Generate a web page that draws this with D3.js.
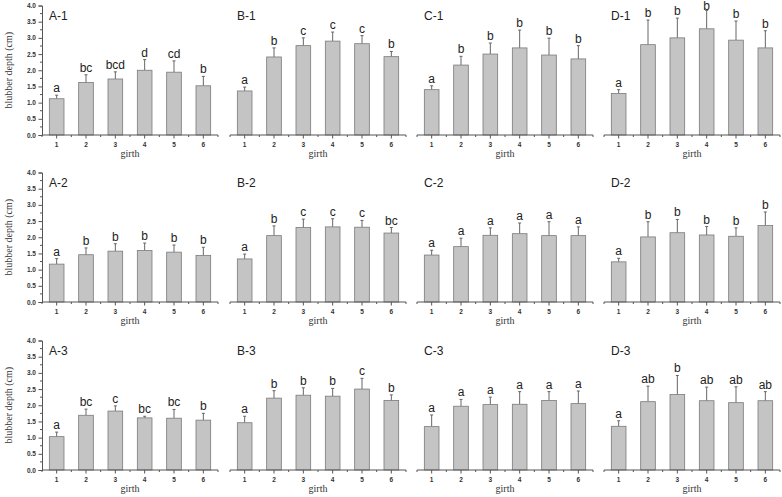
<!DOCTYPE html>
<html>
<head>
<meta charset="utf-8">
<script src="https://cdn.jsdelivr.net/npm/d3@7"></script>
<style>
body{margin:0;background:#fff;}
</style>
</head>
<body>
<script>
// data
var girth=[1,2,3,4,5,6];
var panelNames=[["A-1","B-1","C-1","D-1"],["A-2","B-2","C-2","D-2"],["A-3","B-3","C-3","D-3"]];
var yTicks=[0,0.5,1,1.5,2,2.5,3,3.5,4];

//means, one list per panel (row by row)
var means=[
 [[1.12,1.62,1.73,2.00,1.94,1.52],[1.36,2.41,2.76,2.90,2.82,2.42],[1.40,2.16,2.50,2.69,2.47,2.35],[1.28,2.79,3.00,3.28,2.93,2.69]],
 [[1.17,1.46,1.57,1.59,1.54,1.44],[1.33,2.05,2.30,2.32,2.31,2.13],[1.45,1.71,2.06,2.11,2.05,2.05],[1.24,2.01,2.14,2.07,2.03,2.36]],
 [[1.03,1.69,1.82,1.61,1.60,1.54],[1.46,2.22,2.31,2.28,2.50,2.15],[1.34,1.97,2.02,2.03,2.15,2.05],[1.35,2.11,2.33,2.14,2.08,2.14]]
];
//upper error bars
var errors=[
 [[0.11,0.24,0.22,0.33,0.35,0.29],[0.12,0.28,0.24,0.28,0.25,0.16],[0.12,0.27,0.34,0.55,0.52,0.41],[0.12,0.76,0.61,0.57,0.59,0.53]],
 [[0.17,0.21,0.23,0.23,0.22,0.25],[0.15,0.30,0.26,0.25,0.21,0.17],[0.15,0.26,0.23,0.33,0.43,0.27],[0.11,0.47,0.41,0.26,0.26,0.42]],
 [[0.14,0.19,0.16,0.05,0.27,0.21],[0.20,0.23,0.23,0.24,0.33,0.17],[0.36,0.21,0.23,0.39,0.27,0.39],[0.17,0.48,0.59,0.42,0.49,0.28]]
];
//significance letters
var letters=[
 [["a","bc","bcd","d","cd","b"],["a","b","c","c","c","b"],["a","b","b","b","b","b"],["a","b","b","b","b","b"]],
 [["a","b","b","b","b","b"],["a","b","c","c","c","bc"],["a","a","a","a","a","a"],["a","b","b","b","b","b"]],
 [["a","bc","c","bc","bc","b"],["a","b","b","b","c","b"],["a","a","a","a","a","a"],["a","ab","b","ab","ab","ab"]]
];

//spacing
var width=782, height=497;
var colStart=[42,230,417,604]; //left edge of each column's axis
var axisWidth=176;
var rowBase=[135,302,470]; //y of 0.0
var plotHeight=129.5; //0.0 to 4.0

var axisColor="#555";
var barFill="#c4c4c4", barStroke="#7a7a7a";

var svg=d3.select("body").append("svg")
    .attr("width",width)
    .attr("height",height)
    .style("background","#fff");

for(var r=0;r<3;r++){
  for(var c=0;c<4;c++){
    var x=d3.scaleLinear().domain([0.5,6.5]).range([colStart[c],colStart[c]+axisWidth]);
    var y=d3.scaleLinear().domain([0,4]).range([rowBase[r],rowBase[r]-plotHeight]);
    var g=svg.append("g");
    var bw=x(1.25)-x(1);
    var m=means[r][c], e=errors[r][c], l=letters[r][c];

    //error bars (upper only)
    g.selectAll(".err").data(girth).enter().append("line")
      .attr("x1",function(d){return x(d);}).attr("x2",function(d){return x(d);})
      .attr("y1",function(d,i){return y(m[i]);})
      .attr("y2",function(d,i){return y(m[i]+e[i]);})
      .attr("stroke","#666").attr("stroke-width",1);
    g.selectAll(".cap").data(girth).enter().append("line")
      .attr("x1",function(d){return x(d)-1.5;}).attr("x2",function(d){return x(d)+1.5;})
      .attr("y1",function(d,i){return y(m[i]+e[i]);})
      .attr("y2",function(d,i){return y(m[i]+e[i]);})
      .attr("stroke","#666").attr("stroke-width",1);

    //bars
    g.selectAll(".bar").data(girth).enter().append("rect")
      .attr("x",function(d){return x(d)-bw;})
      .attr("y",function(d,i){return y(m[i]);})
      .attr("width",bw*2)
      .attr("height",function(d,i){return y(0)-y(m[i]);})
      .attr("fill",barFill).attr("stroke",barStroke).attr("stroke-width",0.8);

    //letters - keep them inside the page at the top
    g.selectAll(".let").data(girth).enter().append("text")
      .attr("x",function(d){return x(d);})
      .attr("y",function(d,i){return Math.max(y(m[i]+e[i])-3,9.5);})
      .attr("text-anchor","middle")
      .style("font-family","Arial, Liberation Sans, sans-serif")
      .style("font-size","12px")
      .attr("fill","#222")
      .text(function(d,i){return l[i];});

    //x axis
    g.append("line").attr("x1",x(0.5)).attr("x2",x(6.5))
      .attr("y1",y(0)).attr("y2",y(0)).attr("stroke",axisColor).attr("stroke-width",1);
    g.selectAll(".xt").data(girth).enter().append("line")
      .attr("x1",function(d){return x(d);}).attr("x2",function(d){return x(d);})
      .attr("y1",y(0)).attr("y2",y(0)+3.5).attr("stroke",axisColor);
    g.selectAll(".xm").data([0.5,1.5,2.5,3.5,4.5,5.5,6.5]).enter().append("line")
      .attr("x1",function(d){return x(d);}).attr("x2",function(d){return x(d);})
      .attr("y1",y(0)).attr("y2",y(0)+2).attr("stroke",axisColor);
    g.selectAll(".xl").data(girth).enter().append("text")
      .attr("x",function(d){return x(d);})
      .attr("y",y(0)+12)
      .attr("text-anchor","middle")
      .style("font-family","Arial, Liberation Sans, sans-serif")
      .style("font-size","6.5px").style("font-weight","bold")
      .attr("fill","#333")
      .text(function(d){return d;});
    g.append("text")
      .attr("x",x(3.5)).attr("y",y(0)+22)
      .attr("text-anchor","middle")
      .style("font-family","Liberation Serif, Times New Roman, serif")
      .style("font-size","10px")
      .attr("fill","#333")
      .text("girth");

    //panel title
    g.append("text")
      .attr("x",colStart[c]+7).attr("y",rowBase[r]-plotHeight+14)
      .style("font-family","Arial, Liberation Sans, sans-serif")
      .style("font-size","12px")
      .attr("fill","#222")
      .text(panelNames[r][c]);

    //y axis only on the left column
    if(c==0){
      var yAxis=d3.axisLeft(y).tickValues(yTicks).tickSize(3.5).tickFormat(d3.format(".1f"));
      var ya=g.append("g").attr("transform","translate("+colStart[c]+",0)").call(yAxis);
      ya.select(".domain").attr("stroke",axisColor);
      ya.selectAll(".tick line").attr("stroke",axisColor);
      ya.selectAll(".tick text")
        .style("font-family","Arial, Liberation Sans, sans-serif")
        .style("font-size","6.5px").style("font-weight","bold")
        .attr("fill","#333").attr("x",-6);
      var minor=d3.range(0.25,4,0.5);
      g.selectAll(".ym").data(minor).enter().append("line")
        .attr("x1",colStart[c]).attr("x2",colStart[c]-2)
        .attr("y1",function(d){return y(d);}).attr("y2",function(d){return y(d);})
        .attr("stroke",axisColor);
      g.append("text")
        .attr("transform","translate(12,"+y(2)+") rotate(-90)")
        .attr("text-anchor","middle")
        .style("font-family","Liberation Serif, Times New Roman, serif")
        .style("font-size","10px")
        .attr("fill","#333")
        .text("blubber depth (cm)");
    }
  }
}
</script>
</body>
</html>
